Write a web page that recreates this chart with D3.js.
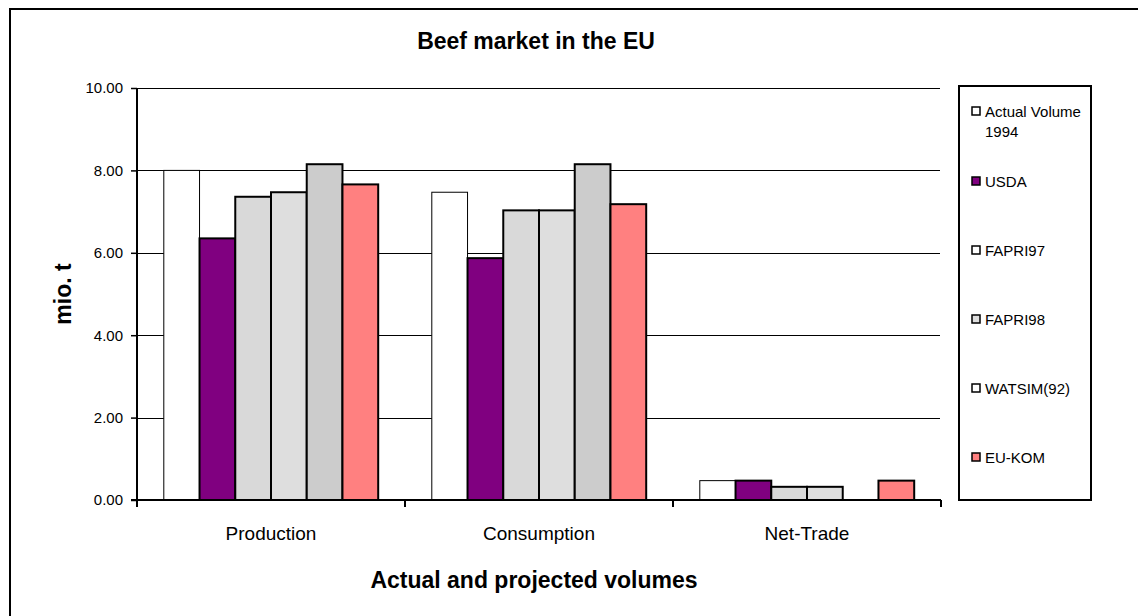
<!DOCTYPE html>
<html>
<head>
<meta charset="utf-8">
<script src="https://cdn.jsdelivr.net/npm/d3@7"></script>
<style>
  html, body { margin: 0; padding: 0; background: #fff; }
  svg { display: block; font-family: "Liberation Sans", Arial, sans-serif; }
</style>
</head>
<body>
<svg id="chart" width="1138" height="616"></svg>
<script>
const categories = ["Production", "Consumption", "Net-Trade"];
const seriesNames = ["Actual Volume 1994", "USDA", "FAPRI97", "FAPRI98", "WATSIM(92)", "EU-KOM"];
const actual1994 = [8.00, 7.47, 0.47];
const usda       = [6.35, 5.87, 0.47];
const fapri97    = [7.36, 7.03, 0.32];
const fapri98    = [7.47, 7.03, 0.32];
const watsim92   = [8.15, 8.15, null];
const euKom      = [7.66, 7.18, 0.47];
const yTicks = [0, 2, 4, 6, 8, 10];

(function () {
const seriesValues = [actual1994, usda, fapri97, fapri98, watsim92, euKom];
const barFill = ["#ffffff", "#800080", "#d9d9d9", "#dedede", "#cccccc", "#ff8080"];
const legendFill = ["#ffffff", "#800080", "#ffffff", "#dedede", "#ffffff", "#ff8080"];
const barStroke = [1, 2, 2, 2, 2, 2];

const svg = d3.select("#chart");

// outer frame (only left and top visible)
svg.append("rect").attr("x", 10).attr("y", 9).attr("width", 1160).attr("height", 640)
  .attr("fill", "none").attr("stroke", "#000").attr("stroke-width", 2);

const pLeft = 137, pRight = 941, pTop = 88, pBottom = 500;
const y = d3.scaleLinear().domain([0, 10]).range([pBottom, pTop]);
const x = d3.scaleBand().domain(categories).range([pLeft, pRight]);
const xs = d3.scaleBand().domain(seriesNames).range([0, x.bandwidth()]).paddingOuter(0.75);

// gridlines
svg.append("g").selectAll("line").data(yTicks.filter(d => d > 0)).join("line")
  .attr("x1", pLeft).attr("x2", pRight - 1)
  .attr("y1", d => Math.round(y(d)) + 0.5).attr("y2", d => Math.round(y(d)) + 0.5)
  .attr("stroke", "#000").attr("stroke-width", 1);

// bars
const rows = [];
categories.forEach((c, ci) => {
  seriesNames.forEach((s, si) => {
    const v = seriesValues[si][ci];
    if (v != null) rows.push({ c, s, si, v });
  });
});
svg.append("g").selectAll("rect").data(rows).join("rect")
  .attr("x", d => x(d.c) + xs(d.s))
  .attr("width", xs.bandwidth())
  .attr("y", d => y(d.v))
  .attr("height", d => pBottom - y(d.v))
  .attr("fill", d => barFill[d.si])
  .attr("stroke", "#000")
  .attr("stroke-width", d => barStroke[d.si]);

// y axis
const yAxis = d3.axisLeft(y).tickValues(yTicks).tickFormat(d3.format(".2f")).tickSize(6).tickPadding(8);
const ya = svg.append("g").attr("transform", `translate(${pLeft},0)`).call(yAxis);
ya.select(".domain").attr("stroke-width", 2).attr("d", `M0,${pTop}V${pBottom}`);
ya.selectAll(".tick line").attr("stroke-width", 1.5);
ya.selectAll("text").attr("font-size", 15).attr("fill", "#000").attr("font-family", "Liberation Sans, Arial, sans-serif");

// x axis
const xa = svg.append("g").attr("transform", `translate(0,${pBottom})`);
xa.append("line").attr("x1", pLeft - 6).attr("x2", pRight).attr("y1", 0).attr("y2", 0)
  .attr("stroke", "#000").attr("stroke-width", 2);
xa.selectAll("line.tk").data([...categories.map(c => x(c)), pRight]).join("line").attr("class", "tk")
  .attr("x1", d => d).attr("x2", d => d).attr("y1", 0).attr("y2", 7)
  .attr("stroke", "#000").attr("stroke-width", 2);
xa.selectAll("text").data(categories).join("text")
  .attr("x", d => x(d) + x.bandwidth() / 2).attr("y", 40)
  .attr("text-anchor", "middle").attr("font-size", 19).text(d => d);

// titles
svg.append("text").attr("x", 536).attr("y", 49).attr("text-anchor", "middle")
  .attr("font-size", 23).attr("font-weight", "bold").text("Beef market in the EU");
svg.append("text").attr("x", 534).attr("y", 588).attr("text-anchor", "middle")
  .attr("font-size", 23).attr("font-weight", "bold").text("Actual and projected volumes");
svg.append("text").attr("transform", "translate(71,294) rotate(-90)").attr("text-anchor", "middle")
  .attr("font-size", 23).attr("font-weight", "bold").text("mio. t");

// legend
const lg = svg.append("g");
lg.append("rect").attr("x", 959).attr("y", 86).attr("width", 132).attr("height", 414)
  .attr("fill", "#fff").attr("stroke", "#000").attr("stroke-width", 2);
const legendY = [111, 181, 250, 319, 388, 457];
const items = lg.selectAll("g.item").data(seriesNames).join("g").attr("class", "item")
  .attr("transform", (d, i) => `translate(972,${legendY[i]})`);
items.append("rect").attr("x", 0).attr("y", -4).attr("width", 8).attr("height", 8)
  .attr("fill", (d, i) => legendFill[i]).attr("stroke", "#000").attr("stroke-width", 1.5);
items.append("text").attr("x", 13).attr("y", 6).attr("font-size", 15)
  .each(function(d) {
    const t = d3.select(this);
    if (d === "Actual Volume 1994") {
      t.append("tspan").attr("x", 13).attr("dy", 0).text("Actual Volume");
      t.append("tspan").attr("x", 13).attr("dy", 20).text("1994");
    } else {
      t.text(d);
    }
  });
})();
</script>
</body>
</html>
